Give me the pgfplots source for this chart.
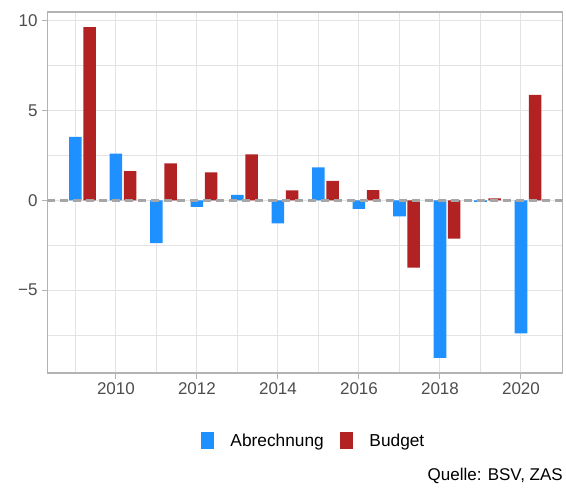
\documentclass[border=0pt]{standalone}
\usepackage{pgfplots}
\pgfplotsset{compat=1.18}
\usepackage{fontspec}
\setmainfont{Liberation Sans}
\definecolor{abr}{HTML}{1E90FF}
\definecolor{bud}{HTML}{B22222}
\definecolor{framegray}{HTML}{B3B3B3}
\definecolor{gridgray}{HTML}{E3E3E3}
\definecolor{ticktext}{HTML}{4D4D4D}
\definecolor{zeroline}{HTML}{A6A6A6}

\pgfplotstableread{
year abr bud
2009 3.54 9.65
2010 2.60 1.62
2011 -2.38 2.06
2012 -0.36 1.56
2013 0.30 2.56
2014 -1.28 0.56
2015 1.84 1.08
2016 -0.48 0.57
2017 -0.89 -3.75
2018 -8.78 -2.14
2019 -0.09 0.11
2020 -7.41 5.87
}\data

\begin{document}
\begin{tikzpicture}
\useasboundingbox (-47.5pt,-115pt) rectangle (518.5pt,373pt);
\begin{axis}[
  at={(0,0)}, anchor=south west,
  scale only axis,
  width=515.2pt, height=361pt,
  xmin=2008.31, xmax=2021.03,
  ymin=-9.62, ymax=10.49,
  xtick={2010,2012,2014,2016,2018,2020},
  minor xtick={2009,2011,2013,2015,2017,2019},
  ytick={-5,0,5,10},
  yticklabels={−5,0,5,10},
  minor ytick={-7.5,-2.5,2.5,7.5},
  /pgf/number format/assume math mode=true,
  /pgf/number format/1000 sep={},
  xticklabel style={font=\fontsize{17}{20}\selectfont, text=ticktext, yshift=-1pt},
  yticklabel style={font=\fontsize{17}{20}\selectfont, text=ticktext, xshift=-1pt},
  grid=both,
  major grid style={color=gridgray, line width=1pt},
  minor grid style={color=gridgray, line width=0.7pt},
  axis line style={color=framegray, line width=1.2pt},
  tick style={color=framegray, line width=1pt},
  tick align=outside,
  major tick length=5.5pt,
  minor tick length=0pt,
  xtick pos=bottom, ytick pos=left,
  legend columns=2,
  legend style={
    at={(axis description cs:0.5164,-0.1875)}, anchor=center,
    draw=none, fill=none,
    font=\fontsize{17.3}{20}\selectfont,
    /tikz/every odd column/.append style={column sep=14pt},
    /tikz/every even column/.append style={column sep=14pt},
  },
  legend image code/.code={\fill[#1] (0pt,-8.35pt) rectangle (13.7pt,8.35pt);},
]
\addplot[ybar, bar width=0.31, bar shift=0, fill=abr, draw=none] table[x=year, y=abr] {\data};
\addlegendentry{Abrechnung}
\addplot[ybar, bar width=0.31, bar shift=0.35, fill=bud, draw=none] table[x=year, y=bud] {\data};
\addlegendentry{Budget}
\draw[zeroline, line width=2.4pt, dash pattern=on 8pt off 5pt] (axis cs:2008.31,0) -- (axis cs:2021.03,0);
\end{axis}
\node[anchor=base east, font=\fontsize{17}{20}\selectfont, inner sep=0pt] at (515.5pt,-107pt) {Quelle: BSV, ZAS};
\end{tikzpicture}
\end{document}
